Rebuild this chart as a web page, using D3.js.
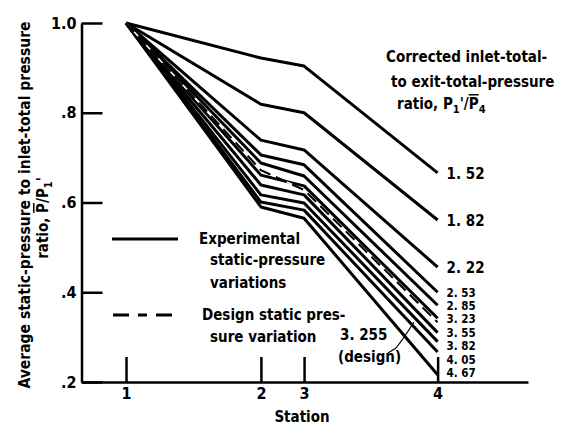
<!DOCTYPE html>
<html>
<head>
<meta charset="utf-8">
<script src="https://cdn.jsdelivr.net/npm/d3@7"></script>
<style>
  body { margin: 0; background: #fff; }
  text { font-family: "Liberation Sans Narrow", "DejaVu Sans Condensed", sans-serif; font-weight: bold; fill: #000; }
</style>
</head>
<body>
<svg width="561" height="426"></svg>
<script>
const width = 561;
const height = 426;

// stations and their axial positions (station 1 = 0)
const stations = ["1", "2", "3", "4"];
const stationPos = [0, 1, 1.32, 2.31];

// corrected inlet-total to exit-total pressure ratio per run
const ratios = ["1.52", "1.82", "2.22", "2.53", "2.85", "3.23", "3.55", "3.82", "4.05", "4.67"];
// average static / inlet-total pressure at stations 1..4
const runValues = [
  [1.0, 0.922, 0.904, 0.666],
  [1.0, 0.819, 0.800, 0.561],
  [1.0, 0.739, 0.717, 0.456],
  [1.0, 0.706, 0.684, 0.400],
  [1.0, 0.688, 0.659, 0.371],
  [1.0, 0.661, 0.637, 0.342],
  [1.0, 0.639, 0.617, 0.310],
  [1.0, 0.617, 0.599, 0.290],
  [1.0, 0.601, 0.583, 0.267],
  [1.0, 0.590, 0.565, 0.216]
];
const designRatio = "3.255";
const designValues = [1.0, 0.672, 0.628, 0.333];

const yTicks = [0.2, 0.4, 0.6, 0.8, 1.0];

const svg = d3.select("svg");

const x = d3.scaleLinear().domain([-0.33, 2.98]).range([81.5, 528]);
const y = d3.scaleLinear().domain([0.2, 1.0]).range([382, 23]);

const line = d3.line()
  .x((d, i) => x(stationPos[i]))
  .y(d => y(d));

// axes
svg.append("g")
  .attr("transform", `translate(${x(-0.33)},0)`)
  .call(d3.axisLeft(y).tickValues(yTicks).tickSizeInner(-21).tickSizeOuter(0).tickPadding(5)
    .tickFormat(d => d === 1 ? "1.0" : "." + Math.round(d * 10)));

svg.append("g")
  .attr("transform", `translate(0,${y(0.2)})`)
  .call(d3.axisBottom(x).tickValues(stationPos).tickSizeInner(-25).tickSizeOuter(0).tickPadding(6)
    .tickFormat((d, i) => stations[i]));

svg.selectAll(".domain, .tick line").attr("stroke", "#000").attr("stroke-width", 2.5);
svg.selectAll(".tick text").attr("font-size", 16).attr("font-family", null);

// curves
svg.append("g")
  .selectAll("path")
  .data(runValues)
  .join("path")
  .attr("d", line)
  .attr("fill", "none")
  .attr("stroke", "#000")
  .attr("stroke-width", 3)
  .attr("stroke-linejoin", "round");

svg.append("path")
  .attr("d", line(designValues))
  .attr("fill", "none")
  .attr("stroke", "#fff")
  .attr("stroke-width", 1.5);

svg.append("path")
  .attr("d", line(designValues))
  .attr("fill", "none")
  .attr("stroke", "#000")
  .attr("stroke-width", 2)
  .attr("stroke-dasharray", "12,6");

// labels at station 4: the crowded ones are stacked evenly below 2.22
const crowdTop = y(runValues[3][3]);
const crowdBottom = y(runValues[9][3]) - 2;
const crowdStep = (crowdBottom - crowdTop) / 6;
svg.append("g")
  .selectAll("text")
  .data(ratios)
  .join("text")
  .attr("x", x(stationPos[3]) + 9)
  .attr("y", (d, i) => i < 3 ? y(runValues[i][3]) : crowdTop + (i - 3) * crowdStep)
  .attr("dy", "0.38em")
  .attr("font-size", (d, i) => i < 3 ? 15 : 11.5)
  .text(d => d.replace(".", ". "));

svg.append("text").attr("x", 340).attr("y", 340).attr("font-size", 15).text(designRatio.replace(".", ". "));
svg.append("text").attr("x", 338).attr("y", 362).attr("font-size", 15).text("(design)");
svg.append("path")
  .attr("d", "M388,353 L396,348 Q404,338 414,322")
  .attr("fill", "none").attr("stroke", "#000").attr("stroke-width", 1.2);

// key title
const key = svg.append("g").attr("font-size", 15);
key.append("text").attr("x", 386).attr("y", 62).text("Corrected inlet-total-");
key.append("text").attr("x", 391).attr("y", 87).text("to exit-total-pressure");
const r = key.append("text").attr("x", 397).attr("y", 109);
r.append("tspan").text("ratio,  P");
r.append("tspan").attr("font-size", 11).attr("dy", 4).text("1");
r.append("tspan").attr("dy", -4).text("'/");
r.append("tspan").attr("text-decoration", "overline").text("P");
r.append("tspan").attr("font-size", 11).attr("dy", 4).text("4");

// legend
svg.append("line").attr("x1", 112).attr("x2", 178).attr("y1", 239).attr("y2", 239)
  .attr("stroke", "#000").attr("stroke-width", 3);
svg.append("line").attr("x1", 113).attr("x2", 180).attr("y1", 315).attr("y2", 315)
  .attr("stroke", "#000").attr("stroke-width", 3).attr("stroke-dasharray", "16,9,9,9");
const lg = svg.append("g").attr("font-size", 15);
lg.append("text").attr("x", 199).attr("y", 244).text("Experimental");
lg.append("text").attr("x", 210).attr("y", 265).text("static-pressure");
lg.append("text").attr("x", 210).attr("y", 288).text("variations");
lg.append("text").attr("x", 202).attr("y", 320).text("Design static pres-");
lg.append("text").attr("x", 210).attr("y", 342).text("sure variation");

// axis titles
svg.append("text").attr("x", 302).attr("y", 422).attr("text-anchor", "middle").attr("font-size", 15).text("Station");

svg.append("text")
  .attr("transform", "translate(30,205) rotate(-90)")
  .attr("text-anchor", "middle").attr("font-size", 15.5)
  .text("Average static-pressure to inlet-total pressure");
const yt = svg.append("text")
  .attr("transform", "translate(48,218) rotate(-90)")
  .attr("text-anchor", "middle").attr("font-size", 15);
yt.append("tspan").text("ratio,  ");
yt.append("tspan").attr("text-decoration", "overline").text("P");
yt.append("tspan").text("/P");
yt.append("tspan").attr("font-size", 11).attr("dy", 4).text("1");
yt.append("tspan").attr("dy", -4).text("'");
</script>
</body>
</html>
